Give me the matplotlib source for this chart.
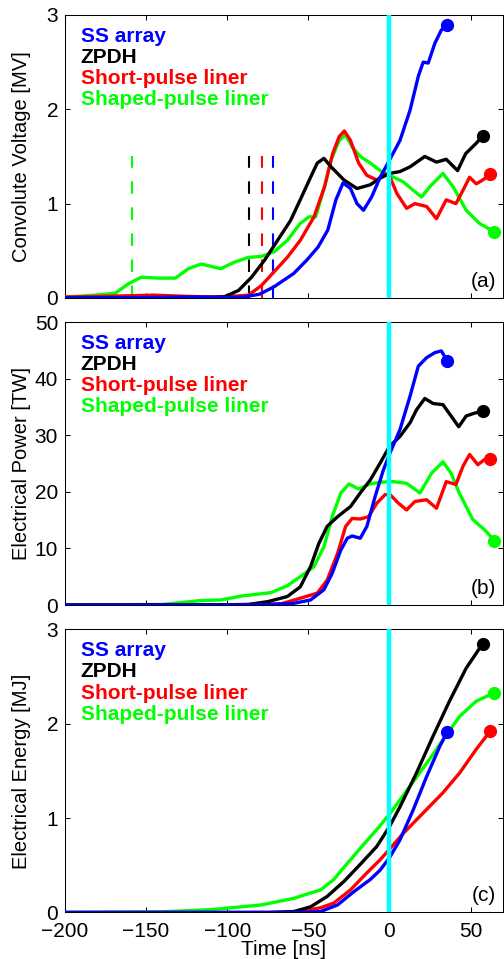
import matplotlib
matplotlib.use("Agg")
import matplotlib.pyplot as plt

# ---- panel (a): convolute voltage [MV] ----
t_v_ss = [-200, -150, -120, -100, -90, -80, -71, -59, -51, -44, -38, -33, -28.6, -24, -20, -16, -11,
          -5.7, 0, 6.5, 12.7, 17.8, 20.8, 23.9, 28, 32, 35.5]
v_ss = [0, 0.005, 0.01, 0.005, 0.01, 0.04, 0.12, 0.26, 0.40, 0.54, 0.72, 1.04, 1.22, 1.16, 1.0, 0.93, 1.07,
        1.28, 1.46, 1.67, 1.99, 2.35, 2.5, 2.49, 2.70, 2.84, 2.89]
t_v_zp = [-200, -120, -102, -93, -85, -77, -69, -61, -55, -48.6, -44.5, -40.4, -36, -28, -20, -11.8, -5.7,
          0, 6.5, 12.7, 21.8, 29, 35, 42, 47, 53.5, 57.5]
v_zp = [0, 0.005, 0.01, 0.08, 0.22, 0.40, 0.61, 0.82, 1.04, 1.28, 1.43, 1.48, 1.39, 1.25, 1.16, 1.20, 1.27,
        1.32, 1.34, 1.39, 1.50, 1.44, 1.47, 1.35, 1.53, 1.64, 1.72]
t_v_sp = [-200, -170, -145, -130, -110, -95, -87, -79, -71, -63, -55, -46.5, -40, -35, -31, -27.8, -24, -19,
          -13.9, -7.8, -2.7, 0.4, 4.5, 10.6, 15.7, 22.9, 29, 35, 41, 45.3, 49.4, 53.5, 57.5, 62]
v_sp = [0.01, 0.02, 0.03, 0.02, 0.01, 0.02, 0.03, 0.13, 0.28, 0.43, 0.61, 0.86, 1.18, 1.53, 1.71, 1.77, 1.67, 1.43,
        1.30, 1.25, 1.32, 1.28, 1.11, 0.95, 1.0, 0.97, 0.84, 1.04, 1.0, 1.14, 1.28, 1.21, 1.25, 1.31]
t_v_sh = [-200, -181, -169, -161, -153, -142, -132, -124, -116, -104, -95.5, -87, -79, -71, -63, -55, -49.6,
          -45.5, -40, -36, -31, -27, -23, -18, -11.8, -5.7, 0, 8.6, 14.7, 19.8, 24.9, 33, 39.2, 47.3, 55.5, 64.7]
v_sh = [0.01, 0.03, 0.05, 0.15, 0.22, 0.21, 0.21, 0.31, 0.36, 0.31, 0.38, 0.43, 0.44, 0.49, 0.61, 0.79, 0.86,
        0.86, 1.18, 1.46, 1.67, 1.73, 1.60, 1.50, 1.43, 1.35, 1.30, 1.23, 1.14, 1.07, 1.18, 1.32, 1.18, 0.93, 0.79, 0.70]
# dashed markers in panel (a): time and height
dash_t = [-158.8, -86.3, -78.6, -71.6]
dash_top = 1.5

# ---- panel (b): electrical power [TW] ----
t_p_ss = [-200, -100, -79, -59, -48.6, -40.4, -35.3, -30, -26, -23, -18, -13.9, -8.8, -3.7, 0.4, 6.5, 12.7,
          17.8, 22.9, 28, 32, 35.5]
p_ss = [0, 0, 0.05, 0.3, 0.9, 2.7, 5.6, 9.7, 11.8, 12.2, 11.8, 13.9, 19.2, 23.9, 26.9, 31, 36.9,
        42.2, 43.7, 44.6, 44.9, 43.2]
t_p_zp = [-200, -100, -87, -75, -63, -55, -48.6, -43.5, -38.4, -32, -24, -18, -11.8, -5.7, 0, 6.5, 12.7, 16.7,
          21.8, 26.9, 33, 38, 42.7, 47.3, 52.4, 57.5]
p_zp = [0, 0.05, 0.1, 0.6, 1.5, 3.2, 6.8, 10.9, 13.9, 15.6, 17.4, 19.8, 22.1, 25.1, 28, 29.8, 32.2, 34.5,
        36.5, 35.6, 35.4, 33.4, 31.5, 33.4, 33.9, 34.2]
t_p_sp = [-200, -100, -67, -55, -44.5, -38.4, -32, -27, -23, -18, -12.9, -7.8, -2.7, 0.4, 5.5, 10.6, 15.7,
          22.9, 29, 35, 41, 45.3, 49.4, 54.5, 58.6, 62]
p_sp = [0, 0.02, 0.2, 1.2, 2.1, 4.4, 9.1, 13.9, 15.3, 15.2, 15.6, 18, 19.5, 19.5, 18, 16.8, 18.3,
        18.6, 17.1, 21.8, 21.3, 24.5, 26.6, 24.8, 25.7, 25.8]
t_p_sh = [-200, -140, -116, -104, -91, -73, -63, -55, -46.5, -40.4, -35.3, -30, -25, -19, -11.8, -5.7, 2.4,
          10.6, 18.8, 26, 33, 38, 43, 51.4, 58.6, 64.7]
p_sh = [0, 0.1, 0.8, 0.9, 1.6, 2.2, 3.4, 5, 6.8, 10.3, 15.6, 19.8, 21.4, 20.5, 21.4, 21.7, 21.8,
        21.5, 19.8, 23.3, 25.3, 23.3, 19.8, 15.1, 13.3, 11.4]

# ---- panel (c): electrical energy [MJ] ----
t_e_ss = [-200, -55, -42.4, -32, -22, -11.8, -5.7, 0, 6.5, 14.7, 22.9, 31, 35.5]
e_ss = [0, 0, 0.01, 0.08, 0.22, 0.35, 0.45, 0.58, 0.77, 1.09, 1.44, 1.76, 1.91]
t_e_zp = [-200, -75, -59, -48.6, -38.4, -28, -18, -7.8, 0, 6.5, 16.7, 26.9, 37, 47.3, 57.5]
e_zp = [0, 0, 0.01, 0.06, 0.17, 0.33, 0.51, 0.70, 0.91, 1.12, 1.48, 1.87, 2.24, 2.59, 2.85]
t_e_sp = [-200, -59, -42.4, -34.3, -24, -13.9, -5.7, 0, 8.6, 18.8, 33, 43.3, 53.5, 62]
e_sp = [0, 0, 0.05, 0.10, 0.24, 0.42, 0.56, 0.67, 0.84, 1.02, 1.27, 1.48, 1.73, 1.92]
t_e_sh = [-200, -140, -110, -79, -59, -42.4, -34.3, -26, -18, -7.8, 0, 12.7, 22.9, 33, 43.3, 53.5, 64.7]
e_sh = [0, 0.007, 0.03, 0.08, 0.15, 0.24, 0.35, 0.52, 0.68, 0.88, 1.04, 1.34, 1.58, 1.83, 2.08, 2.24, 2.33]

names = ["SS array", "ZPDH", "Short-pulse liner", "Shaped-pulse liner"]
colors = ["#0000ff", "#000000", "#ff0000", "#00ff00"]
x_ticks = [-200, -150, -100, -50, 0, 50]
panel_tags = ["(a)", "(b)", "(c)"]
y_labels = ["Convolute Voltage [MV]", "Electrical Power [TW]", "Electrical Energy [MJ]"]
y_ticks = [[0, 1, 2, 3], [0, 10, 20, 30, 40, 50], [0, 1, 2, 3]]
y_lims = [(0, 3), (0, 50), (0, 3)]

panels = [
    [(t_v_ss, v_ss), (t_v_zp, v_zp), (t_v_sp, v_sp), (t_v_sh, v_sh)],
    [(t_p_ss, p_ss), (t_p_zp, p_zp), (t_p_sp, p_sp), (t_p_sh, p_sh)],
    [(t_e_ss, e_ss), (t_e_zp, e_zp), (t_e_sp, e_sp), (t_e_sh, e_sh)],
]

plt.rcParams["font.family"] = ["Liberation Sans", "DejaVu Sans"]
fig = plt.figure(figsize=(5.04, 9.59), dpi=100)

left, width, height = 0.129, 0.869, 0.2951
bottoms = [0.6893, 0.3691, 0.0485]

for i, series in enumerate(panels):
    ax = fig.add_axes([left, bottoms[i], width, height])
    # draw order: green, red, black, blue on top
    for k in [3, 2, 1, 0]:
        t, y = series[k]
        ax.plot(t, y, color=colors[k], lw=2.4, solid_capstyle="round", solid_joinstyle="round",
                zorder=3 + (3 - k) * 0.1)
        ax.plot(t[-1], y[-1], "o", color=colors[k], ms=8.5, zorder=5)
    if i == 0:
        dash_cols = [colors[3], colors[1], colors[2], colors[0]]
        for tx, c in zip(dash_t, dash_cols):
            ax.plot([tx, tx], [0, dash_top], color=c, lw=1.5, linestyle=(0, (6, 6.5)), zorder=2)
    ax.axvline(0, color="#00ffff", lw=3.2, zorder=4)

    for k, name in enumerate(names):
        ax.text(0.036, 0.906 - k * 0.075, name, transform=ax.transAxes, color=colors[k],
                fontsize=15, fontweight="bold", ha="left", va="baseline")
    ax.text(0.985, 0.04, panel_tags[i], transform=ax.transAxes, fontsize=15, ha="right", va="baseline")

    ax.set_xlim(-200, 70)
    ax.set_ylim(*y_lims[i])
    ax.set_xticks(x_ticks)
    ax.set_yticks(y_ticks[i])
    ax.tick_params(direction="in", top=True, right=True, length=3.6, width=0.75, labelsize=15, pad=5)
    ax.tick_params(axis="x", pad=6.5)
    if i < 2:
        ax.tick_params(labelbottom=False)
    else:
        ax.set_xticklabels([f"\u2212{abs(v)}" if v < 0 else str(v) for v in x_ticks])
        ax.set_xlabel("Time [ns]", fontsize=15)
        ax.xaxis.set_label_coords(0.5, -0.098)
    ax.set_ylabel(y_labels[i], fontsize=14.5)
    ax.yaxis.set_label_coords(-0.078, 0.5)
    for s in ax.spines.values():
        s.set_linewidth(0.75)

fig.savefig("out.png", dpi=100)
